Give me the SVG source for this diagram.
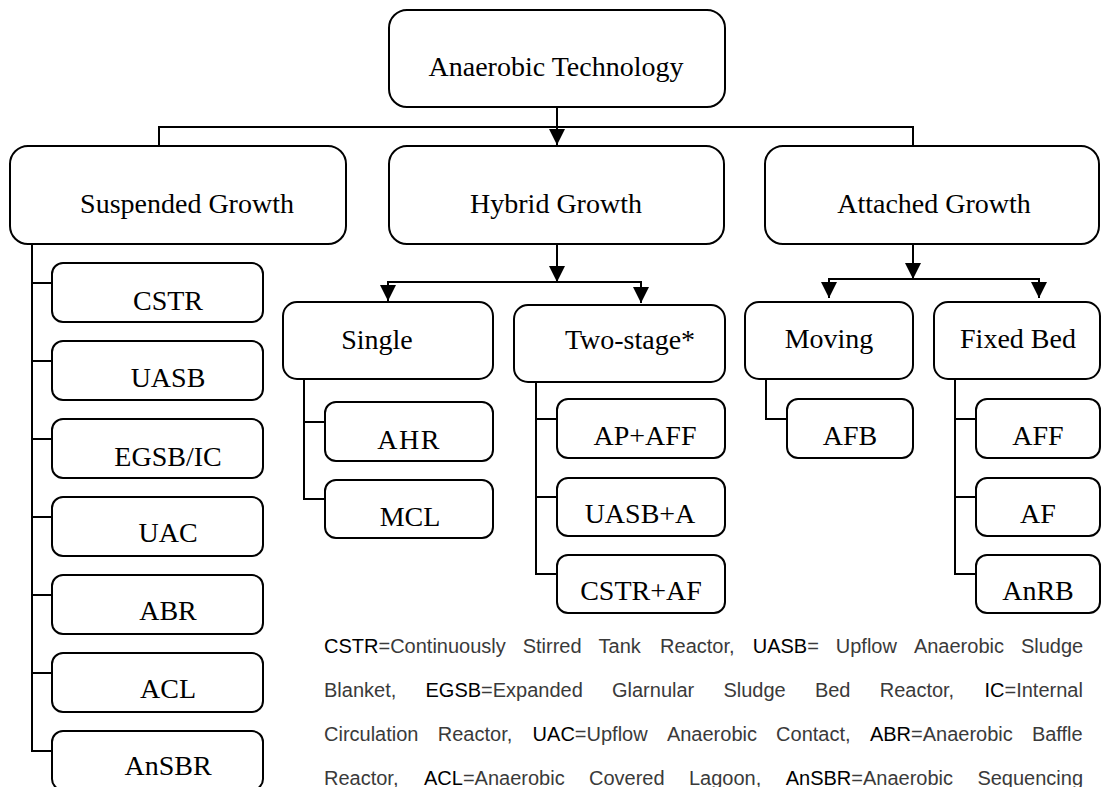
<svg xmlns="http://www.w3.org/2000/svg" width="1101" height="787" viewBox="0 0 1101 787">
<style>
.box{fill:#fff;stroke:#000;stroke-width:2}
.t{font-family:"Liberation Serif","Times New Roman",serif;font-size:28px;fill:#000;text-anchor:middle}
.c{fill:none;stroke:#000;stroke-width:2}
.leg{font-family:"Liberation Sans",Arial,sans-serif;font-size:20px;fill:#3a3a3a}
.ab{fill:#000}
</style>
<defs>
<marker id="arr" viewBox="0 0 16 16" refX="16" refY="8" markerWidth="16" markerHeight="16" markerUnits="userSpaceOnUse" orient="auto">
<path d="M0,0 L16,8 L0,16 z" fill="#000"/>
</marker>
</defs>
<rect width="1101" height="787" fill="#fff"/>
<g id="connectors">
<polyline class="c" points="159,146 159,127 913,127 913,146" stroke-width="2.6"/>
<line class="c" x1="557" y1="107" x2="557" y2="145" marker-end="url(#arr)"/>
<polyline class="c" points="32,244 32,751 52,751"/>
<line class="c" x1="32" y1="283" x2="52" y2="283"/>
<line class="c" x1="32" y1="361" x2="52" y2="361"/>
<line class="c" x1="32" y1="439" x2="52" y2="439"/>
<line class="c" x1="32" y1="517" x2="52" y2="517"/>
<line class="c" x1="32" y1="595" x2="52" y2="595"/>
<line class="c" x1="32" y1="673" x2="52" y2="673"/>
<line class="c" x1="557" y1="244" x2="557" y2="282" marker-end="url(#arr)"/>
<line class="c" x1="388" y1="282" x2="641" y2="282"/>
<line class="c" x1="388" y1="281" x2="388" y2="301" marker-end="url(#arr)"/>
<line class="c" x1="641" y1="281" x2="641" y2="303" marker-end="url(#arr)"/>
<line class="c" x1="913" y1="244" x2="913" y2="279" marker-end="url(#arr)"/>
<line class="c" x1="829" y1="279" x2="1039" y2="279"/>
<line class="c" x1="829" y1="278" x2="829" y2="298" marker-end="url(#arr)"/>
<line class="c" x1="1039" y1="278" x2="1039" y2="298" marker-end="url(#arr)"/>
<polyline class="c" points="304,379 304,499 325,499"/>
<line class="c" x1="304" y1="422" x2="325" y2="422"/>
<polyline class="c" points="536,382 536,574 557,574"/>
<line class="c" x1="536" y1="419" x2="557" y2="419"/>
<line class="c" x1="536" y1="497" x2="557" y2="497"/>
<polyline class="c" points="766,379 766,419 787,419"/>
<polyline class="c" points="955,379 955,574 976,574"/>
<line class="c" x1="955" y1="419" x2="976" y2="419"/>
<line class="c" x1="955" y1="497" x2="976" y2="497"/>
</g>
<g id="root"><rect class="box" x="389" y="10" width="336" height="97" rx="18"/><text class="t" x="556" y="76" font-size="30">Anaerobic Technology</text></g>
<g id="suspended"><rect class="box" x="10" y="146" width="336" height="98" rx="18"/><text class="t" x="187" y="213">Suspended Growth</text></g>
<g id="hybrid"><rect class="box" x="389" y="146" width="335" height="98" rx="18"/><text class="t" x="556" y="213">Hybrid Growth</text></g>
<g id="attached"><rect class="box" x="765" y="146" width="334" height="98" rx="18"/><text class="t" x="934" y="213">Attached Growth</text></g>
<g id="cstr"><rect class="box" x="52" y="263" width="211" height="59" rx="11"/><text class="t" x="168" y="310">CSTR</text></g>
<g id="uasb"><rect class="box" x="52" y="341" width="211" height="59" rx="11"/><text class="t" x="168" y="387">UASB</text></g>
<g id="egsb"><rect class="box" x="52" y="419" width="211" height="59" rx="11"/><text class="t" x="168" y="466">EGSB/IC</text></g>
<g id="uac"><rect class="box" x="52" y="497" width="211" height="59" rx="11"/><text class="t" x="168" y="542">UAC</text></g>
<g id="abr"><rect class="box" x="52" y="575" width="211" height="59" rx="11"/><text class="t" x="168" y="620">ABR</text></g>
<g id="acl"><rect class="box" x="52" y="653" width="211" height="59" rx="11"/><text class="t" x="168" y="698">ACL</text></g>
<g id="ansbr"><rect class="box" x="52" y="731" width="211" height="59" rx="11"/><text class="t" x="168" y="775">AnSBR</text></g>
<g id="single"><rect class="box" x="283" y="302" width="210" height="77" rx="14"/><text class="t" x="377" y="349">Single</text></g>
<g id="twostage"><rect class="box" x="514" y="305" width="211" height="77" rx="14"/><text class="t" x="630" y="349">Two-stage*</text></g>
<g id="moving"><rect class="box" x="745" y="302" width="168" height="77" rx="14"/><text class="t" x="829" y="348">Moving</text></g>
<g id="fixedbed"><rect class="box" x="934" y="302" width="166" height="77" rx="14"/><text class="t" x="1018" y="348">Fixed Bed</text></g>
<g id="ahr"><rect class="box" x="325" y="402" width="168" height="59" rx="11"/><text class="t" x="409" y="449" letter-spacing="1.5">AHR</text></g>
<g id="mcl"><rect class="box" x="325" y="480" width="168" height="58" rx="11"/><text class="t" x="410" y="526">MCL</text></g>
<g id="apaff"><rect class="box" x="557" y="399" width="168" height="59" rx="11"/><text class="t" x="645" y="445">AP+AFF</text></g>
<g id="uasba"><rect class="box" x="557" y="478" width="168" height="58" rx="11"/><text class="t" x="640" y="523">UASB+A</text></g>
<g id="cstraf"><rect class="box" x="557" y="555" width="168" height="58" rx="11"/><text class="t" x="641" y="600">CSTR+AF</text></g>
<g id="afb"><rect class="box" x="787" y="399" width="126" height="59" rx="11"/><text class="t" x="850" y="445">AFB</text></g>
<g id="aff"><rect class="box" x="976" y="399" width="124" height="59" rx="11"/><text class="t" x="1038" y="445">AFF</text></g>
<g id="af"><rect class="box" x="976" y="478" width="124" height="58" rx="11"/><text class="t" x="1038" y="523">AF</text></g>
<g id="anrb"><rect class="box" x="976" y="555" width="124" height="58" rx="11"/><text class="t" x="1038" y="600">AnRB</text></g>
<g id="legend">
<text class="leg" y="653"><tspan x="324" class="ab">CSTR</tspan><tspan>=Continuously</tspan><tspan x="522.7">Stirred</tspan><tspan x="598.6">Tank</tspan><tspan x="660.1">Reactor,</tspan><tspan x="752.7" class="ab">UASB</tspan><tspan>=</tspan><tspan x="835.8">Upflow</tspan><tspan x="913.9">Anaerobic</tspan><tspan x="1020.9">Sludge</tspan></text>
<text class="leg" y="697"><tspan x="324">Blanket,</tspan><tspan x="425.5" class="ab">EGSB</tspan><tspan>=Expanded</tspan><tspan x="612">Glarnular</tspan><tspan x="723.4">Sludge</tspan><tspan x="814.9">Bed</tspan><tspan x="879.7">Reactor,</tspan><tspan x="984.5" class="ab">IC</tspan><tspan>=Internal</tspan></text>
<text class="leg" y="741"><tspan x="324">Circulation</tspan><tspan x="437.8">Reactor,</tspan><tspan x="532.6" class="ab">UAC</tspan><tspan>=Upflow</tspan><tspan x="666.9">Anaerobic</tspan><tspan x="776.1">Contact,</tspan><tspan x="869.9" class="ab">ABR</tspan><tspan>=Anaerobic</tspan><tspan x="1031.9">Baffle</tspan></text>
<text class="leg" y="785"><tspan x="324">Reactor,</tspan><tspan x="424" class="ab">ACL</tspan><tspan>=Anaerobic</tspan><tspan x="589">Covered</tspan><tspan x="689">Lagoon,</tspan><tspan x="785.7" class="ab">AnSBR</tspan><tspan>=Anaerobic</tspan><tspan x="977.4">Sequencing</tspan></text>
</g>
</svg>
